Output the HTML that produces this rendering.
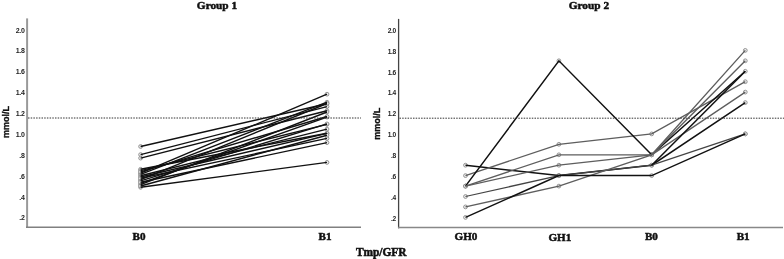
<!DOCTYPE html>
<html><head><meta charset="utf-8"><style>
html,body{margin:0;padding:0;background:#fff;width:784px;height:259px;overflow:hidden}
svg{display:block}
.t{font-family:"Liberation Serif",serif;font-weight:bold;fill:#111;stroke:#111;stroke-width:0.5px}
.k{font-family:"Liberation Sans",sans-serif;font-weight:bold;font-size:7px;fill:#222;text-anchor:end;letter-spacing:-0.35px}
.m{font-family:"Liberation Sans",sans-serif;font-weight:bold;font-size:9px;fill:#111;text-anchor:middle;stroke:#111;stroke-width:0.35px}
</style></head><body>
<svg width="784" height="259" viewBox="0 0 784 259">
<rect width="784" height="259" fill="#fff"/>
<text class="t" x="217" y="9.0" font-size="11.3" text-anchor="middle">Group 1</text>
<text class="t" x="588.9" y="9.0" font-size="11.3" text-anchor="middle">Group 2</text>
<g class="k"><text x="24.5" y="32.5">2.0</text><text x="395.8" y="32.7" font-size="6.6">2.0</text><text x="24.5" y="53.4">1.8</text><text x="395.8" y="53.6" font-size="6.6">1.8</text><text x="24.5" y="74.3">1.6</text><text x="395.8" y="74.5" font-size="6.6">1.6</text><text x="24.5" y="95.1">1.4</text><text x="395.8" y="95.3" font-size="6.6">1.4</text><text x="24.5" y="116.0">1.2</text><text x="395.8" y="116.2" font-size="6.6">1.2</text><text x="24.5" y="136.9">1.0</text><text x="395.8" y="137.1" font-size="6.6">1.0</text><text x="24.5" y="157.8">.8</text><text x="395.8" y="158.0" font-size="6.6">.8</text><text x="24.5" y="178.6">.6</text><text x="395.8" y="178.8" font-size="6.6">.6</text><text x="24.5" y="199.5">.4</text><text x="395.8" y="199.7" font-size="6.6">.4</text><text x="24.5" y="220.4">.2</text><text x="395.8" y="220.6" font-size="6.6">.2</text></g>
<text class="m" transform="translate(8.9,122) rotate(-90)">mmol/L</text>
<text class="m" transform="translate(379.8,123.7) rotate(-90)">mmol/L</text>
<line x1="27.1" y1="18.4" x2="27.1" y2="227.8" stroke="#999" stroke-width="2"/>
<line x1="26" y1="227.3" x2="361" y2="227.3" stroke="#808080" stroke-width="1.6"/>
<line x1="398.6" y1="18.9" x2="398.6" y2="228.3" stroke="#444" stroke-width="1.3"/>
<line x1="398" y1="227.6" x2="783" y2="227.6" stroke="#888" stroke-width="1.5"/>
<circle cx="140.6" cy="146.5" r="1.9" fill="#eee" stroke="#8a8a8a" stroke-width="0.9"/><circle cx="327.0" cy="103.8" r="1.9" fill="#eee" stroke="#8a8a8a" stroke-width="0.9"/><circle cx="140.6" cy="154.6" r="1.9" fill="#eee" stroke="#8a8a8a" stroke-width="0.9"/><circle cx="327.0" cy="106.6" r="1.9" fill="#eee" stroke="#8a8a8a" stroke-width="0.9"/><circle cx="140.6" cy="158.1" r="1.9" fill="#eee" stroke="#8a8a8a" stroke-width="0.9"/><circle cx="327.0" cy="110.8" r="1.9" fill="#eee" stroke="#8a8a8a" stroke-width="0.9"/><circle cx="140.6" cy="173.2" r="1.9" fill="#eee" stroke="#8a8a8a" stroke-width="0.9"/><circle cx="327.0" cy="94.2" r="1.9" fill="#eee" stroke="#8a8a8a" stroke-width="0.9"/><circle cx="140.6" cy="187.3" r="1.9" fill="#eee" stroke="#8a8a8a" stroke-width="0.9"/><circle cx="327.0" cy="162.4" r="1.9" fill="#eee" stroke="#8a8a8a" stroke-width="0.9"/><circle cx="140.6" cy="184.7" r="1.9" fill="#eee" stroke="#8a8a8a" stroke-width="0.9"/><circle cx="327.0" cy="112.0" r="1.9" fill="#eee" stroke="#8a8a8a" stroke-width="0.9"/><circle cx="140.6" cy="183.4" r="1.9" fill="#eee" stroke="#8a8a8a" stroke-width="0.9"/><circle cx="327.0" cy="117.1" r="1.9" fill="#eee" stroke="#8a8a8a" stroke-width="0.9"/><circle cx="140.6" cy="169.3" r="1.9" fill="#eee" stroke="#8a8a8a" stroke-width="0.9"/><circle cx="327.0" cy="133.2" r="1.9" fill="#eee" stroke="#8a8a8a" stroke-width="0.9"/><circle cx="140.6" cy="174.4" r="1.9" fill="#eee" stroke="#8a8a8a" stroke-width="0.9"/><circle cx="327.0" cy="102.2" r="1.9" fill="#eee" stroke="#8a8a8a" stroke-width="0.9"/><circle cx="140.6" cy="179.6" r="1.9" fill="#eee" stroke="#8a8a8a" stroke-width="0.9"/><circle cx="327.0" cy="103.5" r="1.9" fill="#eee" stroke="#8a8a8a" stroke-width="0.9"/><circle cx="140.6" cy="170.6" r="1.9" fill="#eee" stroke="#8a8a8a" stroke-width="0.9"/><circle cx="327.0" cy="124.4" r="1.9" fill="#eee" stroke="#8a8a8a" stroke-width="0.9"/><circle cx="140.6" cy="175.7" r="1.9" fill="#eee" stroke="#8a8a8a" stroke-width="0.9"/><circle cx="327.0" cy="129.1" r="1.9" fill="#eee" stroke="#8a8a8a" stroke-width="0.9"/><circle cx="140.6" cy="180.9" r="1.9" fill="#eee" stroke="#8a8a8a" stroke-width="0.9"/><circle cx="327.0" cy="123.9" r="1.9" fill="#eee" stroke="#8a8a8a" stroke-width="0.9"/><circle cx="140.6" cy="177.0" r="1.9" fill="#eee" stroke="#8a8a8a" stroke-width="0.9"/><circle cx="327.0" cy="133.4" r="1.9" fill="#eee" stroke="#8a8a8a" stroke-width="0.9"/><circle cx="140.6" cy="178.3" r="1.9" fill="#eee" stroke="#8a8a8a" stroke-width="0.9"/><circle cx="327.0" cy="138.4" r="1.9" fill="#eee" stroke="#8a8a8a" stroke-width="0.9"/><circle cx="140.6" cy="186.0" r="1.9" fill="#eee" stroke="#8a8a8a" stroke-width="0.9"/><circle cx="327.0" cy="135.2" r="1.9" fill="#eee" stroke="#8a8a8a" stroke-width="0.9"/><circle cx="140.6" cy="182.2" r="1.9" fill="#eee" stroke="#8a8a8a" stroke-width="0.9"/><circle cx="327.0" cy="142.6" r="1.9" fill="#eee" stroke="#8a8a8a" stroke-width="0.9"/><circle cx="140.6" cy="171.9" r="1.9" fill="#eee" stroke="#8a8a8a" stroke-width="0.9"/><circle cx="327.0" cy="116.5" r="1.9" fill="#eee" stroke="#8a8a8a" stroke-width="0.9"/><circle cx="465.5" cy="165.2" r="1.9" fill="#eee" stroke="#8a8a8a" stroke-width="0.9"/><circle cx="558.9" cy="175.6" r="1.9" fill="#eee" stroke="#8a8a8a" stroke-width="0.9"/><circle cx="651.7" cy="165.2" r="1.9" fill="#eee" stroke="#8a8a8a" stroke-width="0.9"/><circle cx="745.3" cy="102.6" r="1.9" fill="#eee" stroke="#8a8a8a" stroke-width="0.9"/><circle cx="465.5" cy="175.6" r="1.9" fill="#eee" stroke="#8a8a8a" stroke-width="0.9"/><circle cx="558.9" cy="144.3" r="1.9" fill="#eee" stroke="#8a8a8a" stroke-width="0.9"/><circle cx="651.7" cy="133.9" r="1.9" fill="#eee" stroke="#8a8a8a" stroke-width="0.9"/><circle cx="745.3" cy="81.7" r="1.9" fill="#eee" stroke="#8a8a8a" stroke-width="0.9"/><circle cx="465.5" cy="186.1" r="1.9" fill="#eee" stroke="#8a8a8a" stroke-width="0.9"/><circle cx="558.9" cy="60.8" r="1.9" fill="#eee" stroke="#8a8a8a" stroke-width="0.9"/><circle cx="651.7" cy="154.8" r="1.9" fill="#eee" stroke="#8a8a8a" stroke-width="0.9"/><circle cx="745.3" cy="71.3" r="1.9" fill="#eee" stroke="#8a8a8a" stroke-width="0.9"/><circle cx="465.5" cy="186.1" r="1.9" fill="#eee" stroke="#8a8a8a" stroke-width="0.9"/><circle cx="558.9" cy="154.8" r="1.9" fill="#eee" stroke="#8a8a8a" stroke-width="0.9"/><circle cx="651.7" cy="154.8" r="1.9" fill="#eee" stroke="#8a8a8a" stroke-width="0.9"/><circle cx="745.3" cy="50.4" r="1.9" fill="#eee" stroke="#8a8a8a" stroke-width="0.9"/><circle cx="465.5" cy="186.1" r="1.9" fill="#eee" stroke="#8a8a8a" stroke-width="0.9"/><circle cx="558.9" cy="165.2" r="1.9" fill="#eee" stroke="#8a8a8a" stroke-width="0.9"/><circle cx="651.7" cy="154.8" r="1.9" fill="#eee" stroke="#8a8a8a" stroke-width="0.9"/><circle cx="745.3" cy="60.8" r="1.9" fill="#eee" stroke="#8a8a8a" stroke-width="0.9"/><circle cx="465.5" cy="196.5" r="1.9" fill="#eee" stroke="#8a8a8a" stroke-width="0.9"/><circle cx="558.9" cy="175.6" r="1.9" fill="#eee" stroke="#8a8a8a" stroke-width="0.9"/><circle cx="651.7" cy="165.2" r="1.9" fill="#eee" stroke="#8a8a8a" stroke-width="0.9"/><circle cx="745.3" cy="133.9" r="1.9" fill="#eee" stroke="#8a8a8a" stroke-width="0.9"/><circle cx="465.5" cy="206.9" r="1.9" fill="#eee" stroke="#8a8a8a" stroke-width="0.9"/><circle cx="558.9" cy="186.1" r="1.9" fill="#eee" stroke="#8a8a8a" stroke-width="0.9"/><circle cx="651.7" cy="154.8" r="1.9" fill="#eee" stroke="#8a8a8a" stroke-width="0.9"/><circle cx="745.3" cy="92.1" r="1.9" fill="#eee" stroke="#8a8a8a" stroke-width="0.9"/><circle cx="465.5" cy="217.4" r="1.9" fill="#eee" stroke="#8a8a8a" stroke-width="0.9"/><circle cx="558.9" cy="175.6" r="1.9" fill="#eee" stroke="#8a8a8a" stroke-width="0.9"/><circle cx="651.7" cy="175.6" r="1.9" fill="#eee" stroke="#8a8a8a" stroke-width="0.9"/><circle cx="745.3" cy="133.9" r="1.9" fill="#eee" stroke="#8a8a8a" stroke-width="0.9"/>
<line x1="140.6" y1="146.5" x2="327.0" y2="103.8" stroke="#111" stroke-width="1.4"/><line x1="140.6" y1="154.6" x2="327.0" y2="106.6" stroke="#111" stroke-width="1.4"/><line x1="140.6" y1="158.1" x2="327.0" y2="110.8" stroke="#111" stroke-width="1.4"/><line x1="140.6" y1="173.2" x2="327.0" y2="94.2" stroke="#111" stroke-width="1.4"/><line x1="140.6" y1="187.3" x2="327.0" y2="162.4" stroke="#111" stroke-width="1.4"/><line x1="140.6" y1="184.7" x2="327.0" y2="112.0" stroke="#111" stroke-width="1.4"/><line x1="140.6" y1="183.4" x2="327.0" y2="117.1" stroke="#111" stroke-width="1.4"/><line x1="140.6" y1="169.3" x2="327.0" y2="133.2" stroke="#111" stroke-width="1.4"/><line x1="140.6" y1="174.4" x2="327.0" y2="102.2" stroke="#111" stroke-width="1.4"/><line x1="140.6" y1="179.6" x2="327.0" y2="103.5" stroke="#111" stroke-width="1.4"/><line x1="140.6" y1="170.6" x2="327.0" y2="124.4" stroke="#111" stroke-width="1.4"/><line x1="140.6" y1="175.7" x2="327.0" y2="129.1" stroke="#111" stroke-width="1.4"/><line x1="140.6" y1="180.9" x2="327.0" y2="123.9" stroke="#111" stroke-width="1.4"/><line x1="140.6" y1="177.0" x2="327.0" y2="133.4" stroke="#111" stroke-width="1.4"/><line x1="140.6" y1="178.3" x2="327.0" y2="138.4" stroke="#111" stroke-width="1.4"/><line x1="140.6" y1="186.0" x2="327.0" y2="135.2" stroke="#111" stroke-width="1.4"/><line x1="140.6" y1="182.2" x2="327.0" y2="142.6" stroke="#111" stroke-width="1.4"/><line x1="140.6" y1="171.9" x2="327.0" y2="116.5" stroke="#111" stroke-width="1.4"/><polyline points="465.5,165.2 558.9,175.6 651.7,165.2 745.3,102.6" fill="none" stroke="#111" stroke-width="1.5" stroke-linejoin="miter"/><polyline points="465.5,175.6 558.9,144.3 651.7,133.9 745.3,81.7" fill="none" stroke="#5e5e5e" stroke-width="1.35" stroke-linejoin="miter"/><polyline points="465.5,186.1 558.9,60.8 651.7,154.8 745.3,71.3" fill="none" stroke="#111" stroke-width="1.5" stroke-linejoin="miter"/><polyline points="465.5,186.1 558.9,154.8 651.7,154.8 745.3,50.4" fill="none" stroke="#5e5e5e" stroke-width="1.35" stroke-linejoin="miter"/><polyline points="465.5,186.1 558.9,165.2 651.7,154.8 745.3,60.8" fill="none" stroke="#5e5e5e" stroke-width="1.35" stroke-linejoin="miter"/><polyline points="465.5,196.5 558.9,175.6 651.7,165.2 745.3,133.9" fill="none" stroke="#444" stroke-width="1.25" stroke-linejoin="miter"/><polyline points="465.5,206.9 558.9,186.1 651.7,154.8 745.3,92.1" fill="none" stroke="#5e5e5e" stroke-width="1.35" stroke-linejoin="miter"/><polyline points="465.5,217.4 558.9,175.6 651.7,175.6 745.3,133.9" fill="none" stroke="#111" stroke-width="1.5" stroke-linejoin="miter"/><line x1="651.7" y1="165.2" x2="745.3" y2="71.3" stroke="#111" stroke-width="1.5"/>
<line x1="28" y1="118.0" x2="361" y2="118.0" stroke="#333" stroke-width="1" stroke-dasharray="1.5,1.2"/>
<line x1="399.5" y1="118.2" x2="784" y2="118.2" stroke="#333" stroke-width="1" stroke-dasharray="1.5,1.2"/>
<g class="t" font-size="11.1" text-anchor="middle">
<text x="139.1" y="240.3">B0</text>
<text x="325.1" y="240.3">B1</text>
<text x="466" y="239.6">GH0</text>
<text x="559.8" y="240.6">GH1</text>
<text x="651.4" y="240.3">B0</text>
<text x="743.2" y="240.3">B1</text>
</g>
<text class="t" transform="translate(381.2,255.5) scale(1,1.17)" font-size="11.4" text-anchor="middle">Tmp/GFR</text>
</svg>
</body></html>
